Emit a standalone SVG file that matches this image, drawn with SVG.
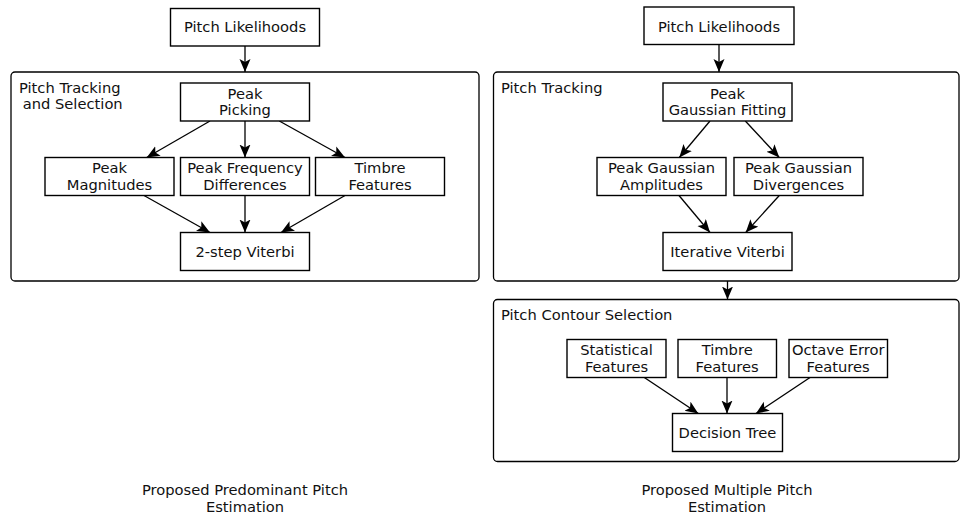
<svg xmlns="http://www.w3.org/2000/svg" width="960" height="517" viewBox="0 0 960 517">
<defs>
<marker id="ah" markerUnits="userSpaceOnUse" markerWidth="14" markerHeight="12" refX="13" refY="5.5" orient="auto">
<path d="M0,0 L13,5.5 L0,11 L3,5.5 z" fill="#000"/>
</marker>
<style>
text{font-family:"DejaVu Sans","Noto Sans",sans-serif;font-size:14.7px;fill:#111}
.c{text-anchor:middle}
.box{fill:#fff;stroke:#000;stroke-width:1.4}
.grp{fill:none;stroke:#000;stroke-width:1.3}
.edge{stroke:#000;stroke-width:1.3;fill:none;marker-end:url(#ah)}
</style>
</defs>
<rect width="960" height="517" fill="#fff"/>

<g id="clusters">
<g id="cluster-left"><rect class="grp" x="11" y="72" width="468" height="209" rx="4"/>
<text x="19" y="92.7">Pitch Tracking</text><text x="22.7" y="109.3">and Selection</text></g>
<g id="cluster-right-tracking"><rect class="grp" x="493.5" y="72" width="465.5" height="209" rx="4"/>
<text x="501" y="92.7">Pitch Tracking</text></g>
<g id="cluster-right-selection"><rect class="grp" x="493.5" y="299.5" width="465.5" height="162" rx="4"/>
<text x="501" y="320">Pitch Contour Selection</text></g>
</g>

<g id="connectors">
<line class="edge" x1="245" y1="46" x2="245" y2="72"/>
<line class="edge" x1="210" y1="121" x2="146.7" y2="157.5"/>
<line class="edge" x1="245" y1="121" x2="245" y2="157.5"/>
<line class="edge" x1="279.3" y1="121" x2="345" y2="157.5"/>
<line class="edge" x1="144" y1="195.5" x2="210" y2="232.5"/>
<line class="edge" x1="245" y1="195.5" x2="245" y2="232.5"/>
<line class="edge" x1="345" y1="195.5" x2="281" y2="232.5"/>

<line class="edge" x1="719" y1="44.5" x2="719" y2="72"/>
<line class="edge" x1="710" y1="121" x2="679.3" y2="157.5"/>
<line class="edge" x1="745.3" y1="121" x2="779.3" y2="157.5"/>
<line class="edge" x1="679" y1="195.5" x2="710" y2="232.5"/>
<line class="edge" x1="779.3" y1="195.5" x2="745.7" y2="232.5"/>
<line class="edge" x1="727.5" y1="281" x2="727.5" y2="299.5"/>
<line class="edge" x1="644.3" y1="377.5" x2="698.3" y2="413.5"/>
<line class="edge" x1="727" y1="377.5" x2="727" y2="413.5"/>
<line class="edge" x1="810" y1="377.5" x2="756" y2="413.5"/>
</g>

<g id="n-left-likelihoods"><rect class="box" x="170.5" y="8.5" width="149" height="37.5"/>
<text class="c" x="245" y="32.3">Pitch Likelihoods</text></g>
<g id="n-peak-picking"><rect class="box" x="180.5" y="83" width="129" height="38"/>
<text class="c" x="245" y="98.5">Peak</text><text class="c" x="245" y="115.2">Picking</text></g>
<g id="n-peak-magnitudes"><rect class="box" x="45" y="157.5" width="129" height="38"/>
<text class="c" x="109.5" y="173">Peak</text><text class="c" x="109.5" y="189.7">Magnitudes</text></g>
<g id="n-peak-freq-diff"><rect class="box" x="180.5" y="157.5" width="129" height="38"/>
<text class="c" x="245" y="173">Peak Frequency</text><text class="c" x="245" y="189.7">Differences</text></g>
<g id="n-timbre-left"><rect class="box" x="315.5" y="157.5" width="129" height="38"/>
<text class="c" x="380" y="173">Timbre</text><text class="c" x="380" y="189.7">Features</text></g>
<g id="n-2step-viterbi"><rect class="box" x="180.5" y="232.5" width="129" height="38"/>
<text class="c" x="245" y="256.7">2-step Viterbi</text></g>

<g id="n-right-likelihoods"><rect class="box" x="644" y="7" width="150" height="37.5"/>
<text class="c" x="719" y="31.5">Pitch Likelihoods</text></g>
<g id="n-gaussian-fitting"><rect class="box" x="663" y="83" width="129" height="38"/>
<text class="c" x="727.5" y="98.5">Peak</text><text class="c" x="727.5" y="115.2">Gaussian Fitting</text></g>
<g id="n-gaussian-amplitudes"><rect class="box" x="597" y="157.5" width="129" height="38"/>
<text class="c" x="661.5" y="173">Peak Gaussian</text><text class="c" x="661.5" y="189.7">Amplitudes</text></g>
<g id="n-gaussian-divergences"><rect class="box" x="734" y="157.5" width="129" height="38"/>
<text class="c" x="798.5" y="173">Peak Gaussian</text><text class="c" x="798.5" y="189.7">Divergences</text></g>
<g id="n-iterative-viterbi"><rect class="box" x="663" y="232.5" width="129" height="38"/>
<text class="c" x="727.5" y="256.7">Iterative Viterbi</text></g>
<g id="n-statistical"><rect class="box" x="567" y="339.5" width="99" height="38"/>
<text class="c" x="616.5" y="355">Statistical</text><text class="c" x="616.5" y="371.7">Features</text></g>
<g id="n-timbre-right"><rect class="box" x="678" y="339.5" width="98.5" height="38"/>
<text class="c" x="727.2" y="355">Timbre</text><text class="c" x="727.2" y="371.7">Features</text></g>
<g id="n-octave"><rect class="box" x="789" y="339.5" width="98.5" height="38"/>
<text class="c" x="838.2" y="355">Octave Error</text><text class="c" x="838.2" y="371.7">Features</text></g>
<g id="n-decision-tree"><rect class="box" x="672.5" y="413.5" width="110" height="38"/>
<text class="c" x="727.5" y="437.7">Decision Tree</text></g>

<g id="captions">
<text class="c" x="245" y="495">Proposed Predominant Pitch</text><text class="c" x="245" y="511.7">Estimation</text>
<text class="c" x="727" y="495">Proposed Multiple Pitch</text><text class="c" x="727" y="511.7">Estimation</text>
</g>
</svg>
